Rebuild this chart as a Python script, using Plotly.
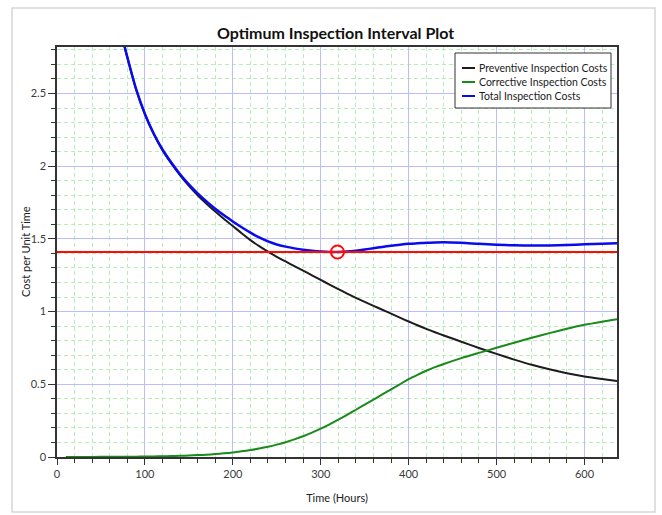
import plotly.graph_objects as go

# ---- data ----
time_hours = [72, 77, 80, 90, 100, 110, 120, 130, 140, 150, 160, 170, 180, 190, 200,
              210, 220, 230, 240, 250, 260, 270, 280, 290, 300, 310, 320, 330, 340,
              350, 360, 370, 380, 390, 400, 410, 420, 430, 440, 460, 480, 500, 520,
              540, 560, 580, 600, 620, 637]
preventive = [2.933, 2.818, 2.748, 2.528, 2.357, 2.221, 2.110, 2.019, 1.937, 1.865,
              1.800, 1.742, 1.688, 1.637, 1.589, 1.539, 1.492, 1.450, 1.412, 1.377,
              1.345, 1.313, 1.282, 1.250, 1.218, 1.186, 1.155, 1.124, 1.095, 1.067,
              1.040, 1.013, 0.986, 0.959, 0.932, 0.906, 0.881, 0.858, 0.836, 0.793,
              0.750, 0.709, 0.670, 0.634, 0.603, 0.576, 0.554, 0.536, 0.522]
total = [2.935, 2.820, 2.750, 2.530, 2.360, 2.225, 2.115, 2.025, 1.945, 1.875,
         1.813, 1.758, 1.708, 1.662, 1.620, 1.580, 1.543, 1.510, 1.483, 1.462,
         1.447, 1.435, 1.425, 1.418, 1.413, 1.410, 1.410, 1.413, 1.419, 1.427,
         1.436, 1.445, 1.453, 1.460, 1.466, 1.470, 1.474, 1.476, 1.477, 1.473,
         1.466, 1.460, 1.456, 1.454, 1.455, 1.458, 1.463, 1.467, 1.470]

corrective_time = [10, 30, 50, 72, 80, 90, 100, 110, 120, 130, 140, 150, 160, 170,
                   180, 190, 200, 210, 220, 230, 240, 250, 260, 270, 280, 290, 300,
                   310, 320, 330, 340, 350, 360, 370, 380, 390, 400, 410, 420, 430,
                   440, 460, 480, 500, 520, 540, 560, 580, 600, 620, 637]
corrective = [0.0, 0.0005, 0.001, 0.002, 0.002, 0.0025, 0.003, 0.004, 0.005, 0.0065,
              0.008, 0.010, 0.013, 0.016, 0.020, 0.025, 0.031, 0.039, 0.048, 0.058,
              0.070, 0.085, 0.102, 0.121, 0.143, 0.168, 0.195, 0.225, 0.257, 0.290,
              0.325, 0.360, 0.395, 0.430, 0.465, 0.500, 0.535, 0.565, 0.593, 0.618,
              0.640, 0.680, 0.716, 0.751, 0.786, 0.820, 0.852, 0.882, 0.909, 0.931,
              0.948]

optimum_time = 319
optimum_cost = 1.41

series_names = ["Preventive Inspection Costs", "Corrective Inspection Costs",
                "Total Inspection Costs"]
series_colors = ["#1c1c1c", "#1a8a1a", "#0a0af0"]

x_range = [0, 637]
y_range = [0, 2.82]

# plot-area geometry (px) used to place decorations in paper coordinates
W, H = 662, 515
ML, MR, MT, MB = 57, 45, 47, 58
PW, PH = W - ML - MR, H - MT - MB


def px_x(p):
    return (p - ML) / PW


def px_y(p):
    return (H - MB - p) / PH


fig = go.Figure()

fig.add_trace(go.Scatter(x=time_hours, y=preventive, mode="lines",
                         name=series_names[0], showlegend=False,
                         line=dict(color=series_colors[0], width=2,
                                   shape="spline", smoothing=0.8)))
fig.add_trace(go.Scatter(x=corrective_time, y=corrective, mode="lines",
                         name=series_names[1], showlegend=False,
                         line=dict(color=series_colors[1], width=2,
                                   shape="spline", smoothing=0.8)))
fig.add_trace(go.Scatter(x=time_hours, y=total, mode="lines",
                         name=series_names[2], showlegend=False,
                         line=dict(color=series_colors[2], width=2.5,
                                   shape="spline", smoothing=0.8)))
fig.add_trace(go.Scatter(x=x_range, y=[optimum_cost, optimum_cost], mode="lines",
                         showlegend=False, line=dict(color="#ff0a0a", width=2)))
fig.add_trace(go.Scatter(x=[optimum_time], y=[optimum_cost], mode="markers",
                         showlegend=False,
                         marker=dict(symbol="circle-open", size=13,
                                     color="#ff0a0a",
                                     line=dict(width=2, color="#ff0a0a"))))

font_family = "Lato, 'Noto Sans', sans-serif"

fig.update_layout(
    width=W, height=H,
    margin=dict(l=ML, r=MR, t=MT, b=MB),
    paper_bgcolor="white", plot_bgcolor="white",
    font=dict(family=font_family, size=11, color="#3a3a3a"),
    title=dict(text="<b>Optimum Inspection Interval Plot</b>", x=0.507, xanchor="center",
               y=1 - 33 / H, yanchor="middle",
               font=dict(family=font_family, size=16, color="#111111")),
    showlegend=False,
)

fig.update_xaxes(
    range=x_range, dtick=100, tick0=0,
    showgrid=True, gridcolor="#bcbcff", gridwidth=1,
    showline=True, linecolor="#333333", linewidth=1.5, mirror=True,
    ticks="outside", ticklen=6, tickcolor="#333333",
    zeroline=False,
    title=dict(text="Time (Hours)", standoff=15, font=dict(size=11, color="#222222")),
    minor=dict(dtick=20, showgrid=True, gridcolor="#b8ecb8", griddash="4px,3px",
               ticks="outside", ticklen=4, tickcolor="#333333"),
)
fig.update_yaxes(
    range=y_range, dtick=0.5, tick0=0,
    showgrid=True, gridcolor="#bcbcff", gridwidth=1,
    showline=True, linecolor="#333333", linewidth=1.5, mirror=True,
    ticks="outside", ticklen=7, tickcolor="#333333",
    zeroline=False,
    minor=dict(dtick=0.1, showgrid=True, gridcolor="#b8ecb8", griddash="4px,3px",
               ticks="outside", ticklen=4, tickcolor="#333333"),
)

# y-axis title, placed close to the tick labels as in the reference
fig.add_annotation(xref="paper", yref="paper", x=px_x(25), y=px_y(252),
                   xanchor="center", yanchor="middle", showarrow=False,
                   textangle=-90, text="Cost per Unit Time",
                   font=dict(size=11, color="#222222"))

# outer light frame around the chart panel
fig.add_shape(type="rect", xref="paper", yref="paper",
              x0=px_x(12), x1=px_x(655), y0=px_y(512), y1=px_y(8),
              line=dict(color="#d6d6d6", width=1.5), layer="below")

# legend box (drawn to match the reference's compact legend)
fig.add_shape(type="rect", xref="paper", yref="paper",
              x0=px_x(455), x1=px_x(611), y0=px_y(108), y1=px_y(53),
              line=dict(color="#333333", width=1), fillcolor="white", layer="above")
legend_rows = [68, 82, 96]
for name, color, row in zip(series_names, series_colors, legend_rows):
    fig.add_shape(type="line", xref="paper", yref="paper",
                  x0=px_x(462), x1=px_x(475), y0=px_y(row), y1=px_y(row),
                  line=dict(color=color, width=2), layer="above")
    fig.add_annotation(xref="paper", yref="paper", x=px_x(477), y=px_y(row),
                       xanchor="left", yanchor="middle", showarrow=False,
                       text=name, font=dict(size=10.5, color="#222222"))

fig.write_html("out.html")
